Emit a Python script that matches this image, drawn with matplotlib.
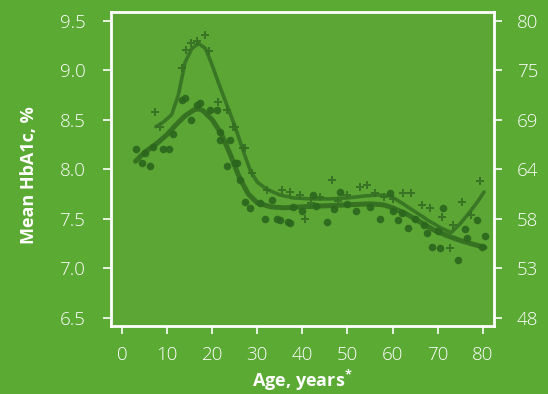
import matplotlib
matplotlib.use("Agg")
import matplotlib.pyplot as plt

plt.rcParams['font.family'] = ['Open Sans', 'DejaVu Sans']
plt.rcParams['mathtext.fontset'] = 'custom'
plt.rcParams['mathtext.rm'] = 'Open Sans:bold'
plt.rcParams['mathtext.bf'] = 'Open Sans:bold'

# --- data -----------------------------------------------------------------
circ_age = [3.1, 4.4, 5.1, 6.1, 6.9, 9.1, 10.4, 11.3, 13.3, 14.0, 15.2, 16.6, 17.3,
            19.5, 21.0, 21.7, 21.7, 23.2, 25.4, 24.0, 25.0, 26.2, 27.3, 28.4, 30.6,
            33.2, 31.7, 34.3, 36.9, 35.0, 37.2, 38.0, 40.0, 42.4, 43.0, 45.4, 47.0,
            48.3, 50.0, 52.0, 55.0, 57.2, 59.4, 60.0, 61.2, 62.0, 63.4, 65.0, 67.0,
            67.6, 68.7, 70.0, 70.5, 71.2, 74.5, 76.0, 76.5, 78.7, 79.8, 80.5]
circ_val = [8.20, 8.06, 8.16, 8.03, 8.22, 8.20, 8.20, 8.36, 8.70, 8.72, 8.50, 8.65, 8.67,
            8.60, 8.60, 8.38, 8.30, 8.03, 8.06, 8.30, 8.06, 7.89, 7.67, 7.61, 7.66,
            7.69, 7.50, 7.50, 7.47, 7.49, 7.46, 7.62, 7.58, 7.74, 7.63, 7.47, 7.60,
            7.77, 7.65, 7.58, 7.62, 7.50, 7.76, 7.58, 7.49, 7.56, 7.41, 7.50, 7.44,
            7.36, 7.21, 7.38, 7.20, 7.61, 7.08, 7.40, 7.30, 7.49, 7.21, 7.33]

plus_age = [7.3, 8.4, 13.2, 14.3, 15.4, 16.6, 18.4, 19.3, 21.3, 23.2, 25.1, 27.3, 24.7,
            26.9, 28.8, 32.1, 35.4, 37.3, 39.5, 40.6, 42.0, 44.0, 46.5, 48.0, 50.0,
            52.8, 54.3, 56.0, 58.0, 60.0, 62.3, 64.2, 66.5, 68.3, 70.9, 72.7, 73.4,
            75.3, 77.5, 79.4]
plus_val = [8.58, 8.43, 9.02, 9.20, 9.27, 9.29, 9.36, 9.19, 8.68, 8.60, 8.43, 8.21, 8.43,
            8.21, 7.96, 7.79, 7.79, 7.77, 7.74, 7.50, 7.66, 7.72, 7.89, 7.68, 7.74,
            7.82, 7.84, 7.76, 7.72, 7.70, 7.76, 7.76, 7.64, 7.61, 7.52, 7.20, 7.44,
            7.67, 7.54, 7.88]

fitA_age = [3, 5, 8, 10, 12, 14, 16, 17, 18, 20, 22, 24, 26, 28, 30, 33, 36, 40, 45,
            50, 55, 58, 60, 63, 66, 69, 72, 75, 78, 80.5]
fitA_val = [8.08, 8.17, 8.27, 8.35, 8.45, 8.54, 8.60, 8.61, 8.59, 8.50, 8.36, 8.15, 7.92,
            7.75, 7.66, 7.62, 7.61, 7.62, 7.63, 7.64, 7.65, 7.64, 7.61, 7.55, 7.47,
            7.39, 7.33, 7.28, 7.24, 7.21]

fitB_age = [7.5, 9, 11, 12.5, 14, 15.5, 17, 18.5, 20, 21.5, 23, 25, 27, 28.5, 30, 32,
            35, 38, 42, 46, 50, 54, 57, 59.5, 62, 65, 68, 71, 73, 75, 77, 79, 80.3]
fitB_val = [8.43, 8.47, 8.55, 8.75, 9.08, 9.22, 9.27, 9.22, 9.05, 8.86, 8.68, 8.44, 8.17,
            7.98, 7.87, 7.80, 7.74, 7.71, 7.70, 7.70, 7.71, 7.73, 7.74, 7.73, 7.66,
            7.57, 7.48, 7.40, 7.36, 7.45, 7.56, 7.68, 7.77]

x_ticks = [0, 10, 20, 30, 40, 50, 60, 70, 80]
y_ticks = [6.5, 7.0, 7.5, 8.0, 8.5, 9.0, 9.5]
y_labels = ['6.5', '7.0', '7.5', '8.0', '8.5', '9.0', '9.5']
mmol_labels = ['48', '53', '58', '64', '69', '75', '80']

# --- style ----------------------------------------------------------------
BG = '#5AAA33'
INNER = '#5CA636'
DARK = '#2C661E'
LINE_A = '#30691F'
LINE_B = '#356F22'
WHITE = 'white'

fig = plt.figure(figsize=(5.48, 3.94), dpi=100, facecolor=BG)
ax = fig.add_axes([111 / 548, 68 / 394, 383 / 548, 314 / 394])
ax.set_facecolor(INNER)

ax.plot(fitB_age, fitB_val, color=LINE_B, lw=2.6, alpha=0.85, solid_capstyle='round', zorder=2)
ax.plot(fitA_age, fitA_val, color=LINE_A, lw=3.6, alpha=0.85, solid_capstyle='round', zorder=2)
ax.scatter(plus_age, plus_val, marker='P', s=26, color=LINE_B, linewidths=0, alpha=0.9, zorder=3)
ax.scatter(circ_age, circ_val, marker='o', s=30, color=DARK, linewidths=0, alpha=0.9, zorder=3)

ax.set_xlim(-2.44, 82.5)
ax.set_ylim(6.416, 9.588)
ax.set_xticks(x_ticks)
ax.set_yticks(y_ticks)
ax.set_yticklabels(y_labels)

for s in ax.spines.values():
    s.set_color(WHITE)
    s.set_linewidth(2)

ax.tick_params(axis='both', colors=WHITE, labelcolor=WHITE, width=1.2, length=5.5,
               labelsize=13.5)
ax.tick_params(axis='y', pad=13)
ax.tick_params(axis='x', pad=9)
for lbl in ax.get_xticklabels() + ax.get_yticklabels():
    lbl.set_fontweight('light')

ax.set_xlabel(r'Age, years$^{*}$', color=WHITE, fontsize=13, fontweight='bold', va='baseline')
ax.xaxis.set_label_coords(0.5, -0.195)
ax.set_ylabel('Mean HbA1c, %', color=WHITE, fontsize=13, fontweight='bold')
ax.yaxis.set_label_coords(-0.19, 0.48)

ax2 = ax.twinx()
ax2.set_ylim(ax.get_ylim())
ax2.set_yticks(y_ticks)
ax2.set_yticklabels(mmol_labels)
ax2.tick_params(axis='y', colors=WHITE, labelcolor=WHITE, width=1.2, length=5.5,
                labelsize=13.5, pad=11)
for lbl in ax2.get_yticklabels():
    lbl.set_fontweight('light')
for s in ax2.spines.values():
    s.set_visible(False)

fig.savefig('out.png', dpi=100, facecolor=BG)
